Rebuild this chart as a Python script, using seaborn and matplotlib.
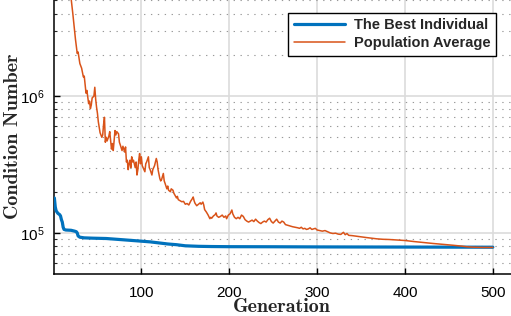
import matplotlib
matplotlib.use("Agg")
import matplotlib.pyplot as plt
import matplotlib.ticker as mticker
import seaborn as sns
import pandas as pd
import numpy as np

# ---- data ----
best_gen = [1, 2, 3, 5, 7, 8, 9, 10, 11, 12, 14, 20, 24, 26, 27, 28, 30, 35, 45, 60, 75,
            90, 100, 110, 120, 130, 140, 150, 165, 180, 200, 250, 300, 400, 500]
best_val = [1.8e5, 1.55e5, 1.45e5, 1.39e5, 1.36e5, 1.33e5, 1.25e5, 1.2e5, 1.1e5, 1.06e5, 1.05e5,
            1.045e5, 1.03e5, 1.02e5, 1.0e5, 9.5e4, 9.3e4, 9.2e4, 9.15e4, 9.1e4, 8.95e4,
            8.8e4, 8.7e4, 8.6e4, 8.45e4, 8.3e4, 8.2e4, 8.05e4, 7.98e4, 7.95e4, 7.93e4, 7.92e4,
            7.9e4, 7.88e4, 7.86e4]

avg_gen = [1, 5, 10, 15, 20, 22, 24, 25, 27, 28, 30, 32, 34, 35, 37, 38, 40, 41, 42, 43, 44,
           46, 47, 48, 49, 50, 51, 53, 55, 56, 57, 58, 59, 60, 61, 63, 64, 66, 67, 68, 70,
           71, 72, 74, 75, 76, 78, 79, 81, 82, 83, 84, 85, 86, 87, 88, 89, 90, 91, 93, 94,
           95, 96, 97, 98, 99, 100, 101, 102, 104, 105, 106, 108, 109, 110, 112, 113, 115, 117,
           118, 119, 121, 122, 123, 125, 126, 127, 129, 130, 131, 133, 134, 136, 137, 138, 140,
           141, 142, 144, 146, 148, 150, 152, 154, 156, 158, 159, 160, 161, 163, 165, 167, 168,
           170, 171, 172, 174, 176, 178, 179, 180, 182, 184, 185, 186, 188, 190, 192, 194, 196,
           197, 199, 201, 203, 204, 206, 208, 210, 212, 214, 216, 218, 220, 222, 224, 226, 228,
           230, 232, 234, 236, 238, 240, 242, 244, 246, 248, 250, 252, 254, 256, 258, 260, 262,
           264, 266, 268, 270, 272, 275, 278, 280, 282, 284, 286, 288, 290, 292, 294, 296, 298,
           300, 303, 306, 309, 312, 315, 318, 321, 324, 327, 330, 332, 334, 336, 340, 345, 350,
           356, 362, 368, 375, 382, 388, 394, 400, 410, 420, 432, 445, 455, 465, 472, 480, 490, 500]
avg_val = [2.0e7, 1.4e7, 1.0e7, 7.5e6, 5.2e6, 4.0e6, 3.0e6, 2.6e6, 2.05e6, 2.1e6, 1.73e6, 1.6e6,
           1.38e6, 1.4e6, 1.05e6, 1.1e6, 8.8e5, 9.2e5, 8.1e5, 8.6e5, 9.7e5,
           1.0e6, 1.16e6, 9.5e5, 8.3e5, 7.5e5, 6.5e5, 5.4e5, 5.0e5, 5.2e5, 6.2e5, 7.0e5, 4.6e5,
           5.0e5, 4.7e5, 5.1e5, 5.5e5, 4.1e5, 4.5e5, 4.0e5, 5.6e5,
           5.2e5, 5.5e5, 5.3e5, 4.6e5, 4.4e5, 4.0e5, 4.3e5, 3.9e5, 4.25e5, 3.3e5, 3.4e5, 2.9e5,
           3.2e5, 3.4e5, 3.0e5, 3.6e5, 3.3e5, 3.4e5, 3.0e5, 3.3e5,
           2.65e5, 2.9e5, 3.4e5, 3.8e5, 3.2e5, 3.6e5, 3.1e5, 3.0e5, 2.8e5, 3.2e5, 3.3e5, 3.6e5,
           3.0e5, 2.9e5, 2.65e5, 2.9e5, 3.1e5, 3.5e5,
           3.3e5, 2.9e5, 2.5e5, 2.4e5, 2.45e5, 2.72e5, 2.4e5, 2.3e5, 2.1e5, 2.2e5, 2.05e5, 2.0e5,
           2.1e5, 2.05e5, 1.95e5, 1.9e5, 1.8e5,
           1.85e5, 1.75e5, 1.72e5, 1.69e5, 1.7e5, 1.62e5, 1.64e5, 1.6e5, 1.7e5, 1.78e5, 1.83e5,
           1.72e5, 1.65e5, 1.58e5, 1.62e5, 1.66e5, 1.62e5,
           1.68e5, 1.6e5, 1.48e5, 1.42e5, 1.35e5, 1.27e5, 1.3e5, 1.28e5, 1.33e5, 1.36e5, 1.4e5,
           1.33e5, 1.3e5, 1.32e5, 1.35e5, 1.3e5, 1.33e5,
           1.27e5, 1.35e5, 1.38e5, 1.47e5, 1.38e5, 1.3e5, 1.27e5, 1.3e5, 1.27e5, 1.35e5, 1.32e5,
           1.25e5, 1.22e5, 1.2e5, 1.22e5, 1.24e5, 1.21e5,
           1.26e5, 1.22e5, 1.19e5, 1.17e5, 1.2e5, 1.22e5, 1.2e5, 1.25e5, 1.28e5, 1.21e5, 1.18e5,
           1.22e5, 1.26e5, 1.2e5, 1.18e5, 1.22e5, 1.2e5,
           1.15e5, 1.14e5, 1.13e5, 1.12e5, 1.11e5, 1.1e5, 1.09e5, 1.08e5, 1.1e5, 1.07e5, 1.08e5,
           1.06e5, 1.07e5, 1.09e5, 1.06e5, 1.07e5, 1.08e5,
           1.05e5, 1.04e5, 1.03e5, 1.04e5, 1.02e5, 1.0e5, 9.9e4, 9.95e4, 9.8e4, 9.75e4, 1.01e5,
           9.7e4, 9.9e4, 9.6e4, 9.55e4, 9.45e4, 9.35e4,
           9.25e4, 9.15e4, 9.05e4, 8.98e4, 8.95e4, 8.9e4, 8.85e4, 8.8e4, 8.65e4, 8.52e4, 8.37e4,
           8.23e4, 8.12e4, 8.0e4, 7.9e4, 7.85e4, 7.83e4, 7.83e4]

labels = ["The Best Individual", "Population Average"]
x_ticks = [100, 200, 300, 400, 500]

# ---- style ----
sns.set_theme(style="white")
plt.rcParams["font.family"] = ["Liberation Sans", "DejaVu Sans"]
plt.rcParams["mathtext.fontset"] = "custom"
plt.rcParams["mathtext.rm"] = "Liberation Sans"

W, H = 511, 316
fig = plt.figure(figsize=(W / 100, H / 100), dpi=100)
left, bottom = 53.5 / W, (H - 273.5) / H
ax = fig.add_axes([left, bottom, 1 - left, 1 - bottom])

df_best = pd.DataFrame({"gen": best_gen, "val": best_val})
df_avg = pd.DataFrame({"gen": avg_gen, "val": avg_val})

sns.lineplot(data=df_best, x="gen", y="val", ax=ax, color="#0072BD", linewidth=2.3,
             label=labels[0], estimator=None, sort=False, zorder=3)
sns.lineplot(data=df_avg, x="gen", y="val", ax=ax, color="#D95319", linewidth=1.1,
             label=labels[1], estimator=None, sort=False, zorder=4)

ax.set_yscale("log")
ax.set_xlim(0, 520.7)
ax.set_ylim(5.05e4, 5.04e6)
ax.set_xticks(x_ticks)
ax.set_xticklabels([str(t) for t in x_ticks])
ax.yaxis.set_major_locator(mticker.LogLocator(base=10))
ax.yaxis.set_minor_locator(mticker.LogLocator(base=10, subs=np.arange(2, 10)))
ax.yaxis.set_minor_formatter(mticker.NullFormatter())

ax.grid(True, which="major", axis="both", color="#dcdcdc", linewidth=1.2, linestyle="-")
ax.grid(True, which="minor", axis="y", color="#999999", linewidth=0.8, linestyle=(0, (1.2, 5)))
ax.set_axisbelow(True)

for s in ["top", "right"]:
    ax.spines[s].set_visible(False)
for s in ["left", "bottom"]:
    ax.spines[s].set_color("black")
    ax.spines[s].set_linewidth(1.1)

ax.tick_params(axis="both", which="major", direction="in", length=4, width=1.0,
               labelsize=11, colors="black", left=True, bottom=True)
ax.tick_params(axis="y", which="minor", direction="in", length=2.5, width=0.8, left=True)
ax.tick_params(axis="x", pad=9)
ax.tick_params(axis="y", pad=6.5)

label_font = dict(family=["cmb10", "DejaVu Serif"], fontsize=14.4)
ax.set_xlabel("Generation", **label_font)
ax.set_ylabel("Condition Number", **label_font)
ax.xaxis.label.set_va("baseline")
ax.xaxis.set_label_coords((281.5 - 53.5) / (W - 53.5), -(312.5 - 273.5) / 273.5)
ax.yaxis.label.set_va("baseline")
ax.yaxis.set_label_coords(-(53.5 - 18) / (W - 53.5), (273.5 - 136.5) / 273.5)

leg = ax.legend(loc="upper right", bbox_to_anchor=((496 - 53.5) / (W - 53.5), 1 - 12.5 / 273.5),
                frameon=True, fancybox=False, edgecolor="black", framealpha=1,
                prop={"weight": "bold", "size": 10.5}, handlelength=3.5,
                borderpad=0.4, labelspacing=0.25, handletextpad=0.6, borderaxespad=0)
leg.get_frame().set_linewidth(1.0)

fig.savefig("out.png", dpi=100)
